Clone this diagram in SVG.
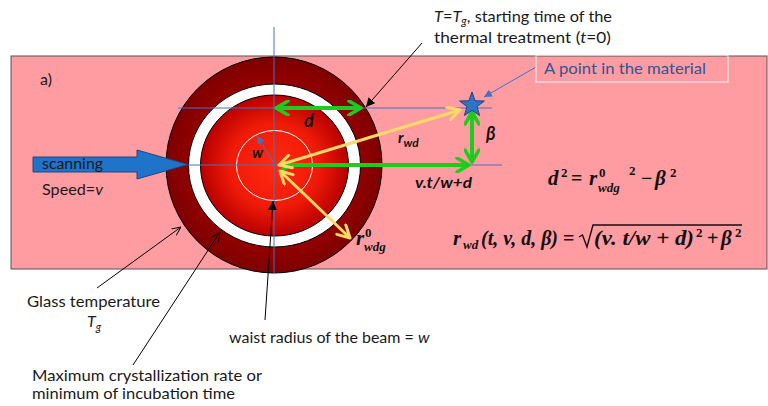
<svg xmlns="http://www.w3.org/2000/svg" width="768" height="406" viewBox="0 0 768 406">
<defs>
<radialGradient id="gRed" cx="0.5" cy="0.5" r="0.5">
<stop offset="0" stop-color="#FF2A10"/>
<stop offset="0.6" stop-color="#F01A08"/>
<stop offset="1" stop-color="#B80000"/>
</radialGradient>
<radialGradient id="gDark" cx="0.5" cy="0.5" r="0.5">
<stop offset="0.7" stop-color="#9A0000"/>
<stop offset="1" stop-color="#7E0000"/>
</radialGradient>
<marker id="mGreen" viewBox="0 0 16 16" refX="14" refY="8" markerWidth="16" markerHeight="16" markerUnits="userSpaceOnUse" orient="auto-start-reverse">
<polyline points="2,1 14,8 2,15" fill="none" stroke="#1DCC1D" stroke-width="3.5" stroke-linecap="round" stroke-linejoin="round"/>
</marker>
<marker id="mYellow" viewBox="0 0 16 16" refX="14" refY="8" markerWidth="16" markerHeight="16" markerUnits="userSpaceOnUse" orient="auto-start-reverse">
<polyline points="2,1.5 14,8 2,14.5" fill="none" stroke="#FFD966" stroke-width="3" stroke-linecap="round" stroke-linejoin="round"/>
</marker>
<marker id="mBlack" viewBox="0 0 10 10" refX="10" refY="5" markerWidth="9" markerHeight="9" markerUnits="userSpaceOnUse" orient="auto">
<path d="M0,0 L10,5 L0,10 Z" fill="#000"/>
</marker>
<marker id="mOpen" viewBox="0 0 10 10" refX="10" refY="5" markerWidth="9" markerHeight="9" markerUnits="userSpaceOnUse" orient="auto">
<polyline points="0,0.5 10,5 0,9.5" fill="none" stroke="#000" stroke-width="1"/>
</marker>
<marker id="mBlue" viewBox="0 0 10 10" refX="10" refY="5" markerWidth="8" markerHeight="8" markerUnits="userSpaceOnUse" orient="auto">
<path d="M0,0 L10,5 L0,10 Z" fill="#4472C4"/>
</marker>
</defs>
<style>
.t{font-family:Lato,"Open Sans","Liberation Sans",sans-serif;font-size:16px;fill:#1a1a1a}
.bi{font-family:Lato,"Liberation Sans",sans-serif;font-weight:bold;font-style:italic;fill:#111}
.m{font-family:"Liberation Serif","DejaVu Serif",serif;font-weight:bold;font-style:italic;fill:#111}
.mu{font-family:"Liberation Serif","DejaVu Serif",serif;font-weight:bold;fill:#111}
.guide{stroke:#4472C4;stroke-width:1;fill:none}
.green{stroke:#1DCC1D;stroke-width:4;fill:none;marker-end:url(#mGreen)}
.yellow{stroke:#FFD966;stroke-width:3;fill:none;marker-start:url(#mYellow);marker-end:url(#mYellow)}
.ptr{stroke:#000;stroke-width:1;fill:none}
</style>

<g id="background">
<rect x="11" y="56" width="756" height="213" fill="#FF9CA2" stroke="#555" stroke-width="1"/>
</g>

<g id="beam">
<circle cx="274" cy="165" r="108" fill="url(#gDark)" stroke="#000" stroke-width="1"/>
<ellipse cx="274.5" cy="165.5" rx="86" ry="81.5" fill="#FFFFFF" stroke="#000" stroke-width="1"/>
<ellipse cx="274.5" cy="165.5" rx="74" ry="70.5" fill="url(#gRed)" stroke="#000" stroke-width="1"/>
<ellipse cx="274.5" cy="165.5" rx="38" ry="35" fill="none" stroke="#FFFFFF" stroke-width="1"/>
</g>

<g id="label-a"><text class="t" x="40" y="85">a)</text></g>

<g id="scanning-arrow">
<path d="M33,157 L137,157 L137,150 L188,164.5 L137,179 L137,172 L33,172 Z" fill="#1F73C9" stroke="#22467A" stroke-width="1"/>
<text class="t" x="42" y="169" textLength="61" lengthAdjust="spacingAndGlyphs">scanning</text>
<text class="t" x="42" y="195" textLength="61" lengthAdjust="spacingAndGlyphs">Speed=<tspan font-style="italic">v</tspan></text>
</g>

<g id="connectors">
<line class="guide" x1="274" y1="27" x2="274" y2="273"/>
<line class="guide" x1="178" y1="108" x2="492" y2="108"/>
<line class="guide" x1="188" y1="165" x2="502" y2="165"/>
<line class="green" x1="276" y1="108" x2="361" y2="108" marker-start="url(#mGreen)"/>
<path class="green" d="M282,170 L290,165 L469,165"/>
<line class="green" x1="472" y1="112" x2="472" y2="162" marker-start="url(#mGreen)"/>
<line class="yellow" x1="279" y1="165" x2="460" y2="110"/>
<line class="yellow" x1="280" y1="171" x2="350" y2="238"/>
<line stroke="#4472C4" stroke-width="1" x1="275" y1="165" x2="257" y2="136" marker-end="url(#mBlue)"/>
<line class="ptr" x1="422" y1="43" x2="366" y2="107" marker-end="url(#mBlack)"/>
<line stroke="#4472C4" stroke-width="1" x1="536" y1="67" x2="484" y2="97" marker-end="url(#mBlue)"/>
<line class="ptr" x1="97" y1="288" x2="181" y2="227" marker-end="url(#mOpen)"/>
<line class="ptr" x1="133" y1="365" x2="220" y2="232" marker-end="url(#mOpen)"/>
<line class="ptr" x1="265" y1="320" x2="273" y2="201" marker-end="url(#mBlack)"/>
</g>

<g id="point">
<polygon points="472,92 475.1,100.8 484.4,101 477,106.6 479.6,115.5 472,110.3 464.4,115.5 467,106.6 459.6,101 468.9,100.8" fill="#2E75C8" stroke="#1F3F7A" stroke-width="1"/>
</g>

<g id="point-label">
<rect x="536" y="55" width="192" height="27" fill="none" stroke="#F4F4F4" stroke-width="1"/>
<text class="t" x="544" y="74" font-size="16" textLength="162" lengthAdjust="spacingAndGlyphs" style="fill:#2F5597">A point in the material</text>
</g>

<g id="labels">
<text class="bi" x="304" y="127" font-size="18">d</text>
<text class="bi" x="252" y="158" font-size="15">w</text>
<text class="bi" x="486" y="140" font-size="18">β</text>
<text class="bi" x="398" y="143" font-size="15.5">r<tspan font-size="12" dy="4">wd</tspan></text>
<text class="bi" x="415" y="188" font-size="15" textLength="57" lengthAdjust="spacingAndGlyphs">v.t/w+d</text>
<text class="m" x="356" y="245" font-size="21">r</text>
<text class="mu" x="365" y="237" font-size="13">0</text>
<text class="m" x="364" y="251" font-size="13">wdg</text>
</g>

<g id="top-label">
<text class="t" x="434" y="22" textLength="178" lengthAdjust="spacingAndGlyphs"><tspan font-style="italic">T</tspan>=<tspan font-style="italic">T<tspan font-size="11" dy="3">g</tspan></tspan><tspan dy="-3">, starting time of the</tspan></text>
<text class="t" x="434" y="43" textLength="177" lengthAdjust="spacingAndGlyphs">thermal treatment  (<tspan font-style="italic">t</tspan>=0)</text>
</g>

<g id="equation-1">
<text class="m" x="548" y="185" font-size="21">d</text>
<text class="mu" x="561" y="177" font-size="13">2</text>
<text class="mu" x="571" y="185" font-size="20">=</text>
<text class="m" x="589" y="185" font-size="21">r</text>
<text class="mu" x="599" y="177" font-size="13">0</text>
<text class="m" x="598" y="192" font-size="13">wdg</text>
<text class="mu" x="629" y="175" font-size="13">2</text>
<text class="mu" x="641" y="185" font-size="20">−</text>
<text class="m" x="655" y="185" font-size="21">β</text>
<text class="mu" x="670" y="177" font-size="13">2</text>
</g>

<g id="equation-2">
<text class="m" x="453" y="245" font-size="21">r</text>
<text class="m" x="463" y="249" font-size="13">wd</text>
<text class="m" x="481" y="245" font-size="21" textLength="77" lengthAdjust="spacingAndGlyphs">(t, v, d, β)</text>
<text class="mu" x="563" y="245" font-size="20">=</text>
<path d="M579,237 L582.5,235 L587,247 L593,225 L742,225" fill="none" stroke="#111" stroke-width="1.4"/>
<text class="m" x="594" y="245" font-size="21" textLength="100" lengthAdjust="spacingAndGlyphs">(v. t/w + d)</text>
<text class="mu" x="696" y="237" font-size="13">2</text>
<text class="mu" x="707" y="245" font-size="20">+</text>
<text class="m" x="721" y="245" font-size="21">β</text>
<text class="mu" x="735" y="237" font-size="13">2</text>
</g>

<g id="bottom-labels">
<text class="t" x="27" y="307" textLength="133" lengthAdjust="spacingAndGlyphs">Glass temperature</text>
<text class="t" x="87" y="327" font-style="italic">T<tspan font-size="11" dy="4">g</tspan></text>
<text class="t" x="229" y="343" font-size="14.8">waist radius of the beam = <tspan font-style="italic">w</tspan></text>
<text class="t" x="32" y="381" font-size="15.5" textLength="230" lengthAdjust="spacingAndGlyphs">Maximum crystallization rate or</text>
<text class="t" x="32" y="399" font-size="15.5" textLength="203" lengthAdjust="spacingAndGlyphs">minimum of incubation time</text>
</g>
</svg>
